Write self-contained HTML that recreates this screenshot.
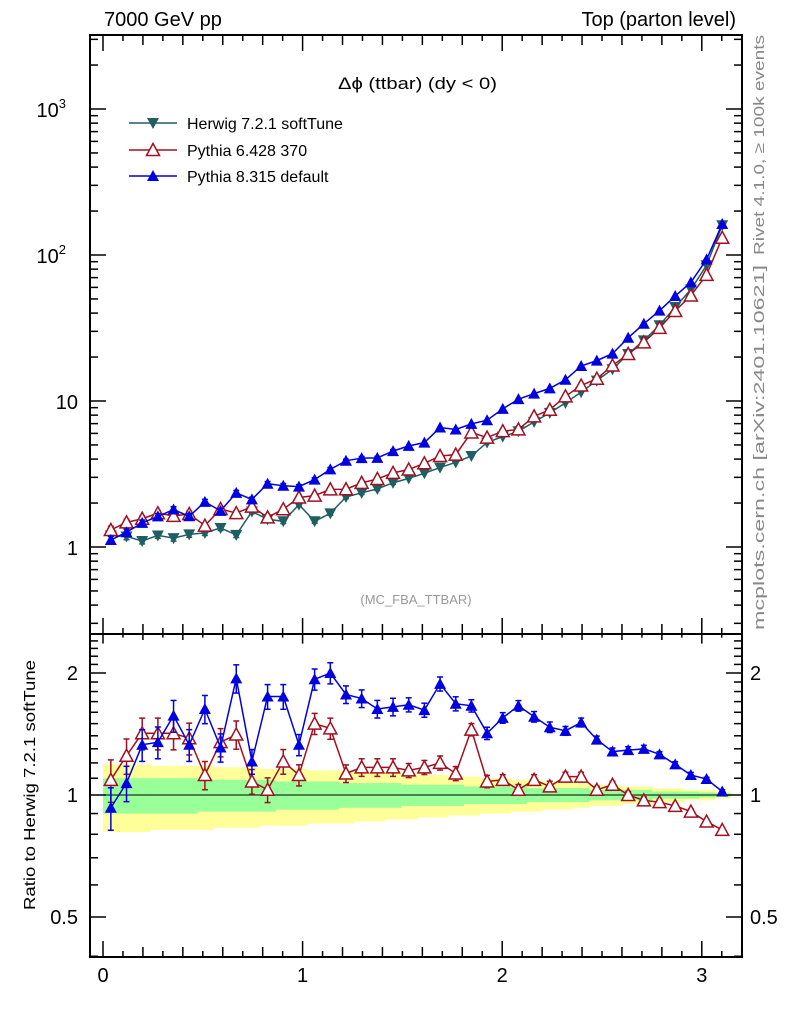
<!DOCTYPE html>
<html><head><meta charset="utf-8"><style>
body{margin:0;background:#fff;}
svg text{font-family:"Liberation Sans","DejaVu Sans",sans-serif;}
</style></head><body>
<svg id="c" width="786" height="1024" xmlns="http://www.w3.org/2000/svg"></svg>
<script>
const herwig=[1.2,1.18,1.1,1.2,1.15,1.22,1.25,1.35,1.21,1.75,1.55,1.5,1.95,1.5,1.7,2.2,2.35,2.5,2.75,2.95,3.2,3.5,3.8,4.2,5.2,5.7,6.2,7.2,8.3,9.7,11.5,13.8,16.5,21,26,33,44,58,85,160];
const ratioP8=[0.93,1.07,1.33,1.35,1.57,1.33,1.63,1.31,1.94,1.21,1.75,1.75,1.33,1.93,2.0,1.77,1.73,1.63,1.65,1.67,1.62,1.88,1.68,1.66,1.42,1.55,1.66,1.56,1.47,1.44,1.51,1.37,1.28,1.29,1.30,1.26,1.19,1.12,1.095,1.02];
const ratioP6=[1.09,1.25,1.42,1.42,1.42,1.38,1.12,1.35,1.41,1.08,1.03,1.21,1.12,1.5,1.46,1.13,1.17,1.17,1.17,1.15,1.17,1.2,1.13,1.45,1.08,1.09,1.03,1.09,1.05,1.11,1.11,1.03,1.06,1.0,0.97,0.96,0.94,0.91,0.86,0.82];
const relErr=[0.12,0.1,0.09,0.09,0.09,0.09,0.08,0.08,0.08,0.07,0.07,0.07,0.06,0.06,0.06,0.05,0.05,0.05,0.05,0.04,0.04,0.04,0.04,0.035,0.035,0.03,0.03,0.03,0.03,0.025,0.025,0.02,0.02,0.02,0.02,0.015,0.015,0.015,0.01,0.01];
const bandOuter=[0.19,0.19,0.19,0.18,0.18,0.18,0.18,0.17,0.17,0.17,0.16,0.16,0.16,0.15,0.15,0.15,0.14,0.14,0.13,0.13,0.12,0.12,0.11,0.11,0.10,0.10,0.09,0.09,0.08,0.08,0.07,0.06,0.06,0.05,0.05,0.04,0.04,0.03,0.03,0.02];
const bandInner=[0.1,0.1,0.1,0.1,0.1,0.1,0.09,0.09,0.09,0.09,0.09,0.08,0.08,0.08,0.08,0.07,0.07,0.07,0.07,0.06,0.06,0.06,0.06,0.05,0.05,0.05,0.05,0.04,0.04,0.04,0.04,0.03,0.03,0.03,0.03,0.02,0.02,0.02,0.015,0.01];
const xTicks=[0,1,2,3];
const NB=40, BW=Math.PI/NB;
const L=90,R=742,T=35,MB=634,RB=957;
const X=v=>103+199.6*v;
const YM=v=>547-146*Math.log10(v);
const YR=v=>795-122*Math.log2(v);
const S=document.getElementById('c');
function mk(tag,attrs,parent){const e=document.createElementNS('http://www.w3.org/2000/svg',tag);for(const k in attrs)e.setAttribute(k,attrs[k]);(parent||S).appendChild(e);return e;}
function txt(s,attrs,parent){const e=mk('text',attrs,parent);e.textContent=s;return e;}
const gB=mk('g',{});
for(let i=0;i<NB;i++){const x0=X(i*BW),x1=X((i+1)*BW);
 const y1=mk('rect',{x:x0,y:YR(1+bandOuter[i]),width:x1-x0+0.5,height:YR(1-bandOuter[i])-YR(1+bandOuter[i]),fill:'#ffff99'},gB);
 }
for(let i=0;i<NB;i++){const x0=X(i*BW),x1=X((i+1)*BW);
 const g1=mk('rect',{x:x0,y:YR(1+bandInner[i]),width:x1-x0+0.5,height:YR(1-bandInner[i])-YR(1+bandInner[i]),fill:'#99ff99'},gB);
 }
const one=mk('line',{x1:L,x2:R,y1:YR(1),y2:YR(1),stroke:'#000','stroke-width':1});

const f1=mk('rect',{x:L,y:T,width:R-L,height:MB-T,fill:'none',stroke:'#000','stroke-width':2});

const f2=mk('rect',{x:L,y:MB,width:R-L,height:RB-MB,fill:'none',stroke:'#000','stroke-width':2});

const gX=mk('g',{stroke:'#000','stroke-width':1.5});
for(let k=0;k<=32;k++){const v=k/10;const x=X(v);if(x>R)break;const len=(k%10==0)?16:(k%2==0?10:6);
 [MB,RB].forEach(b=>{mk('line',{x1:x,x2:x,y1:b,y2:b-len},gX);});
 mk('line',{x1:x,x2:x,y1:MB,y2:MB+len*0.6},gX);mk('line',{x1:x,x2:x,y1:T,y2:T+len},gX);}
xTicks.forEach(v=>{const t=txt(String(v),{x:X(v),y:982,'font-size':20,'text-anchor':'middle'});});
const gY=mk('g',{stroke:'#000','stroke-width':1.5});
for(let d=-1;d<=3;d++)for(let m=1;m<=9;m++){const v=m*Math.pow(10,d);const y=YM(v);if(y<T||y>MB)continue;const len=m==1?16:8;
 mk('line',{x1:L,x2:L+len,y1:y,y2:y},gY);mk('line',{x1:R,x2:R-len,y1:y,y2:y},gY);}
[[1000,'10','3'],[100,'10','2'],[10,'10',''],[1,'1','']].forEach(a=>{const t=txt('',{x:78,y:YM(a[0])+8,'font-size':20,'text-anchor':'end'});
 
 if(a[2]){t.setAttribute('x',66);const s1=mk('tspan',{},t);s1.textContent=a[1];const s2=mk('tspan',{dy:-9,'font-size':13},t);s2.textContent=a[2];}else t.textContent=a[1];});
const gRY=mk('g',{stroke:'#000','stroke-width':1.5});
[0.4,0.5,0.6,0.7,0.8,0.9,1,1.1,1.2,1.3,1.4,1.5,1.6,1.7,1.8,1.9,2,2.1,2.2,2.3,2.4,2.5].forEach(v=>{const y=YR(v);if(y<MB||y>RB)return;const len=(v==0.5||v==1||v==2)?16:8;
 mk('line',{x1:L,x2:L+len,y1:y,y2:y},gRY);mk('line',{x1:R,x2:R-len,y1:y,y2:y},gRY);});
[[2,'2'],[1,'1'],[0.5,'0.5']].forEach(a=>{const t=txt(a[1],{x:78,y:YR(a[0])+7,'font-size':20,'text-anchor':'end'});
 const t2=txt(a[1],{x:750,y:YR(a[0])+7,'font-size':20});});
const p6=herwig.map((h,i)=>h*ratioP6[i]);
const p8=herwig.map((h,i)=>h*ratioP8[i]);
const cx=i=>X((i+0.5)*BW);
function marker(g,x,y,type,col){
 if(type=='down')mk('polygon',{points:`${x-6},${y-5} ${x+6},${y-5} ${x},${y+6}`,fill:col},g);
 else if(type=='up')mk('polygon',{points:`${x-6},${y+5} ${x+6},${y+5} ${x},${y-6}`,fill:col},g);
 else mk('polygon',{points:`${x-6.5},${y+5.5} ${x+6.5},${y+5.5} ${x},${y-6.5}`,fill:'#fff',stroke:col,'stroke-width':1.5},g);}
function series(vals,Y,col,type,name,errs){
 const g=mk('g',{});
 mk('polyline',{points:vals.map((v,i)=>cx(i)+','+Y(v)).join(' '),fill:'none',stroke:col,'stroke-width':1.5},g);
 vals.forEach((v,i)=>{const x=cx(i),e=errs[i];const ya=Y(v*(1+e)),yb=Y(v*(1-e));
  if(yb-ya>3){mk('line',{x1:x,x2:x,y1:ya,y2:yb,stroke:col,'stroke-width':1.5},g);
   mk('line',{x1:x-3,x2:x+3,y1:ya,y2:ya,stroke:col,'stroke-width':1.5},g);mk('line',{x1:x-3,x2:x+3,y1:yb,y2:yb,stroke:col,'stroke-width':1.5},g);}
  marker(g,x,Y(v),type,col);});}
const smallErr=relErr.map(e=>e*0.5);
series(herwig,YM,'#1f5f64','down','herwig-main-series',smallErr);
series(p6,YM,'#a01020','open','pythia6-main-series',smallErr);
series(p8,YM,'#0000e0','up','pythia8-main-series',smallErr);
series(ratioP6,YR,'#a01020','open','pythia6-ratio-series',relErr);
series(ratioP8,YR,'#0000e0','up','pythia8-ratio-series',relErr);
const lg=mk('g',{});
[['Herwig 7.2.1 softTune','#1f5f64','down',123],['Pythia 6.428 370','#a01020','open',150],['Pythia 8.315 default','#0000e0','up',176]].forEach(a=>{
 const e=mk('g',{},lg);
 mk('line',{x1:129,x2:177,y1:a[3],y2:a[3],stroke:a[1],'stroke-width':1.5},e);marker(e,153,a[3],a[2],a[1]);
 txt(a[0],{x:187,y:a[3]+6,'font-size':16},e);});
let t;
t=txt('7000 GeV pp',{x:104,y:26,'font-size':20});
t=txt('Top (parton level)',{x:736,y:26,'font-size':20,'text-anchor':'end'});
t=txt('Δϕ (ttbar) (dy < 0)',{x:338,y:89,'font-size':17,textLength:159,lengthAdjust:'spacingAndGlyphs'});
t=txt('(MC_FBA_TTBAR)',{x:416,y:604,'font-size':13,'text-anchor':'middle',fill:'#999'});
t=txt('Rivet 4.1.0, ≥ 100k events',{x:0,y:0,'font-size':15,fill:'#888',transform:'translate(764,255) rotate(-90)',textLength:220,lengthAdjust:'spacingAndGlyphs'});
t=txt('mcplots.cern.ch [arXiv:2401.10621]',{x:0,y:0,'font-size':15,fill:'#888',transform:'translate(764,630) rotate(-90)',textLength:365,lengthAdjust:'spacingAndGlyphs'});
t=txt('Ratio to Herwig 7.2.1 softTune',{x:0,y:0,'font-size':16,'text-anchor':'middle',transform:'translate(35,785) rotate(-90)',textLength:250,lengthAdjust:'spacingAndGlyphs'});
</script>
</body></html>
